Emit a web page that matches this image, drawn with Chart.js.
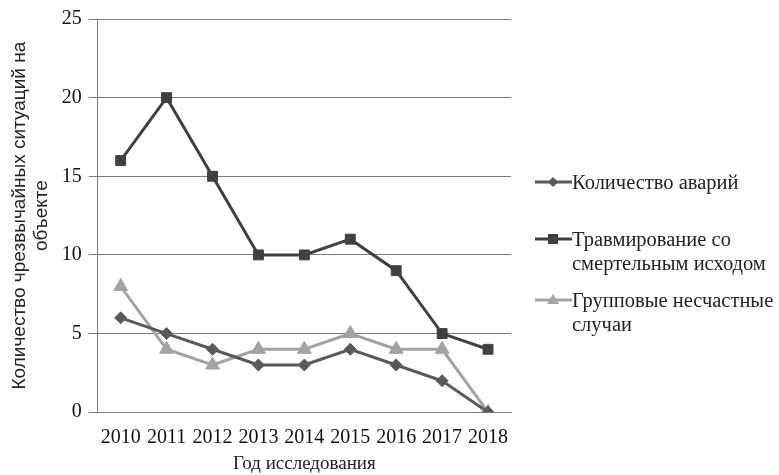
<!DOCTYPE html>
<html>
<head>
<meta charset="utf-8">
<script src="https://cdn.jsdelivr.net/npm/chart.js@4"></script>
<style>
  html, body { margin: 0; padding: 0; background: #fff; }
  #wrap { position: relative; width: 779px; height: 475px; }
  #legend { position: absolute; left: 533px; top: 170px; font-family: "Liberation Serif", "Times New Roman", serif; font-size: 20.5px; color: #222; line-height: 24px; }
  .item { display: flex; align-items: flex-start; }
  .item canvas { flex: none; margin-top: 3px; }
</style>
</head>
<body>
<div id="wrap">
  <canvas id="c" width="779" height="475"></canvas>
  <div id="legend"></div>
</div>
<script>
const years = ['2010', '2011', '2012', '2013', '2014', '2015', '2016', '2017', '2018'];
const accidents = [6, 5, 4, 3, 3, 4, 3, 2, 0];
const fatalInjuries = [16, 20, 15, 10, 10, 11, 9, 5, 4];
const groupIncidents = [8, 4, 3, 4, 4, 5, 4, 4, 0];
const seriesNames = ['Количество аварий', ['Травмирование со', 'смертельным исходом'], ['Групповые несчастные', 'случаи']];

const serif = '"Liberation Serif", "Times New Roman", serif';
const sans = '"Liberation Sans", Arial, sans-serif';

const styles = [
  { color: '#595959', point: 'rectRot', r: 6 },
  { color: '#404040', point: 'rect', r: 7 },
  { color: '#a3a3a3', point: 'triangle', r: 8 }
];
const values = [accidents, fatalInjuries, groupIncidents];

const datasets = values.map((v, i) => ({
  label: Array.isArray(seriesNames[i]) ? seriesNames[i].join(' ') : seriesNames[i],
  data: v,
  borderColor: styles[i].color,
  backgroundColor: styles[i].color,
  borderWidth: 3,
  pointStyle: styles[i].point,
  pointRadius: styles[i].r,
  pointBorderColor: styles[i].color,
  pointBackgroundColor: styles[i].color,
  pointBorderWidth: 1,
  tension: 0
}));

new Chart(document.getElementById('c'), {
  type: 'line',
  data: { labels: years, datasets: datasets },
  options: {
    responsive: false,
    animation: false,
    layout: { padding: { top: 11, right: 268, bottom: 0, left: 9 } },
    plugins: { legend: { display: false }, tooltip: { enabled: false } },
    scales: {
      x: {
        offset: true,
        grid: { display: false, drawTicks: false },
        border: { display: true, color: '#7a7a7a', width: 1 },
        ticks: { color: '#111', font: { family: serif, size: 20 }, padding: 14, maxRotation: 0, autoSkip: false },
        title: { display: true, text: 'Год исследования', color: '#222', font: { family: serif, size: 19 }, padding: { top: -12, bottom: 0 } }
      },
      y: {
        min: 0, max: 25,
        ticks: { stepSize: 5, color: '#111', font: { family: serif, size: 20 }, padding: 7 },
        grid: { color: '#7a7a7a', lineWidth: 1, tickLength: 9 },
        border: { display: true, color: '#7a7a7a', width: 1 },
        title: { display: true, text: ['Количество чрезвычайных ситуаций на', 'объекте'], color: '#222', font: { family: sans, size: 19, lineHeight: 1.15 }, padding: { top: 0, bottom: 2 } }
      }
    }
  }
});

// HTML legend with drawn line+marker samples
const legend = document.getElementById('legend');
const gaps = [0, 33, 13];
seriesNames.forEach((name, i) => {
  const row = document.createElement('div');
  row.className = 'item';
  row.style.marginTop = gaps[i] + 'px';
  const sw = document.createElement('canvas');
  sw.width = 39; sw.height = 18;
  const g = sw.getContext('2d');
  g.strokeStyle = styles[i].color; g.lineWidth = 3;
  g.beginPath(); g.moveTo(2, 9); g.lineTo(39, 9); g.stroke();
  g.fillStyle = styles[i].color;
  const cx = 20, cy = 9;
  g.beginPath();
  if (styles[i].point === 'rectRot') { g.moveTo(cx, cy - 5); g.lineTo(cx + 5, cy); g.lineTo(cx, cy + 5); g.lineTo(cx - 5, cy); }
  else if (styles[i].point === 'rect') { g.rect(cx - 5, cy - 5, 10, 10); }
  else { g.moveTo(cx, cy - 6); g.lineTo(cx + 6, cy + 4); g.lineTo(cx - 6, cy + 4); }
  g.closePath(); g.fill();
  const t = document.createElement('div');
  t.innerHTML = (Array.isArray(name) ? name : [name]).join('<br>');
  row.appendChild(sw); row.appendChild(t);
  legend.appendChild(row);
});
</script>
</body>
</html>
